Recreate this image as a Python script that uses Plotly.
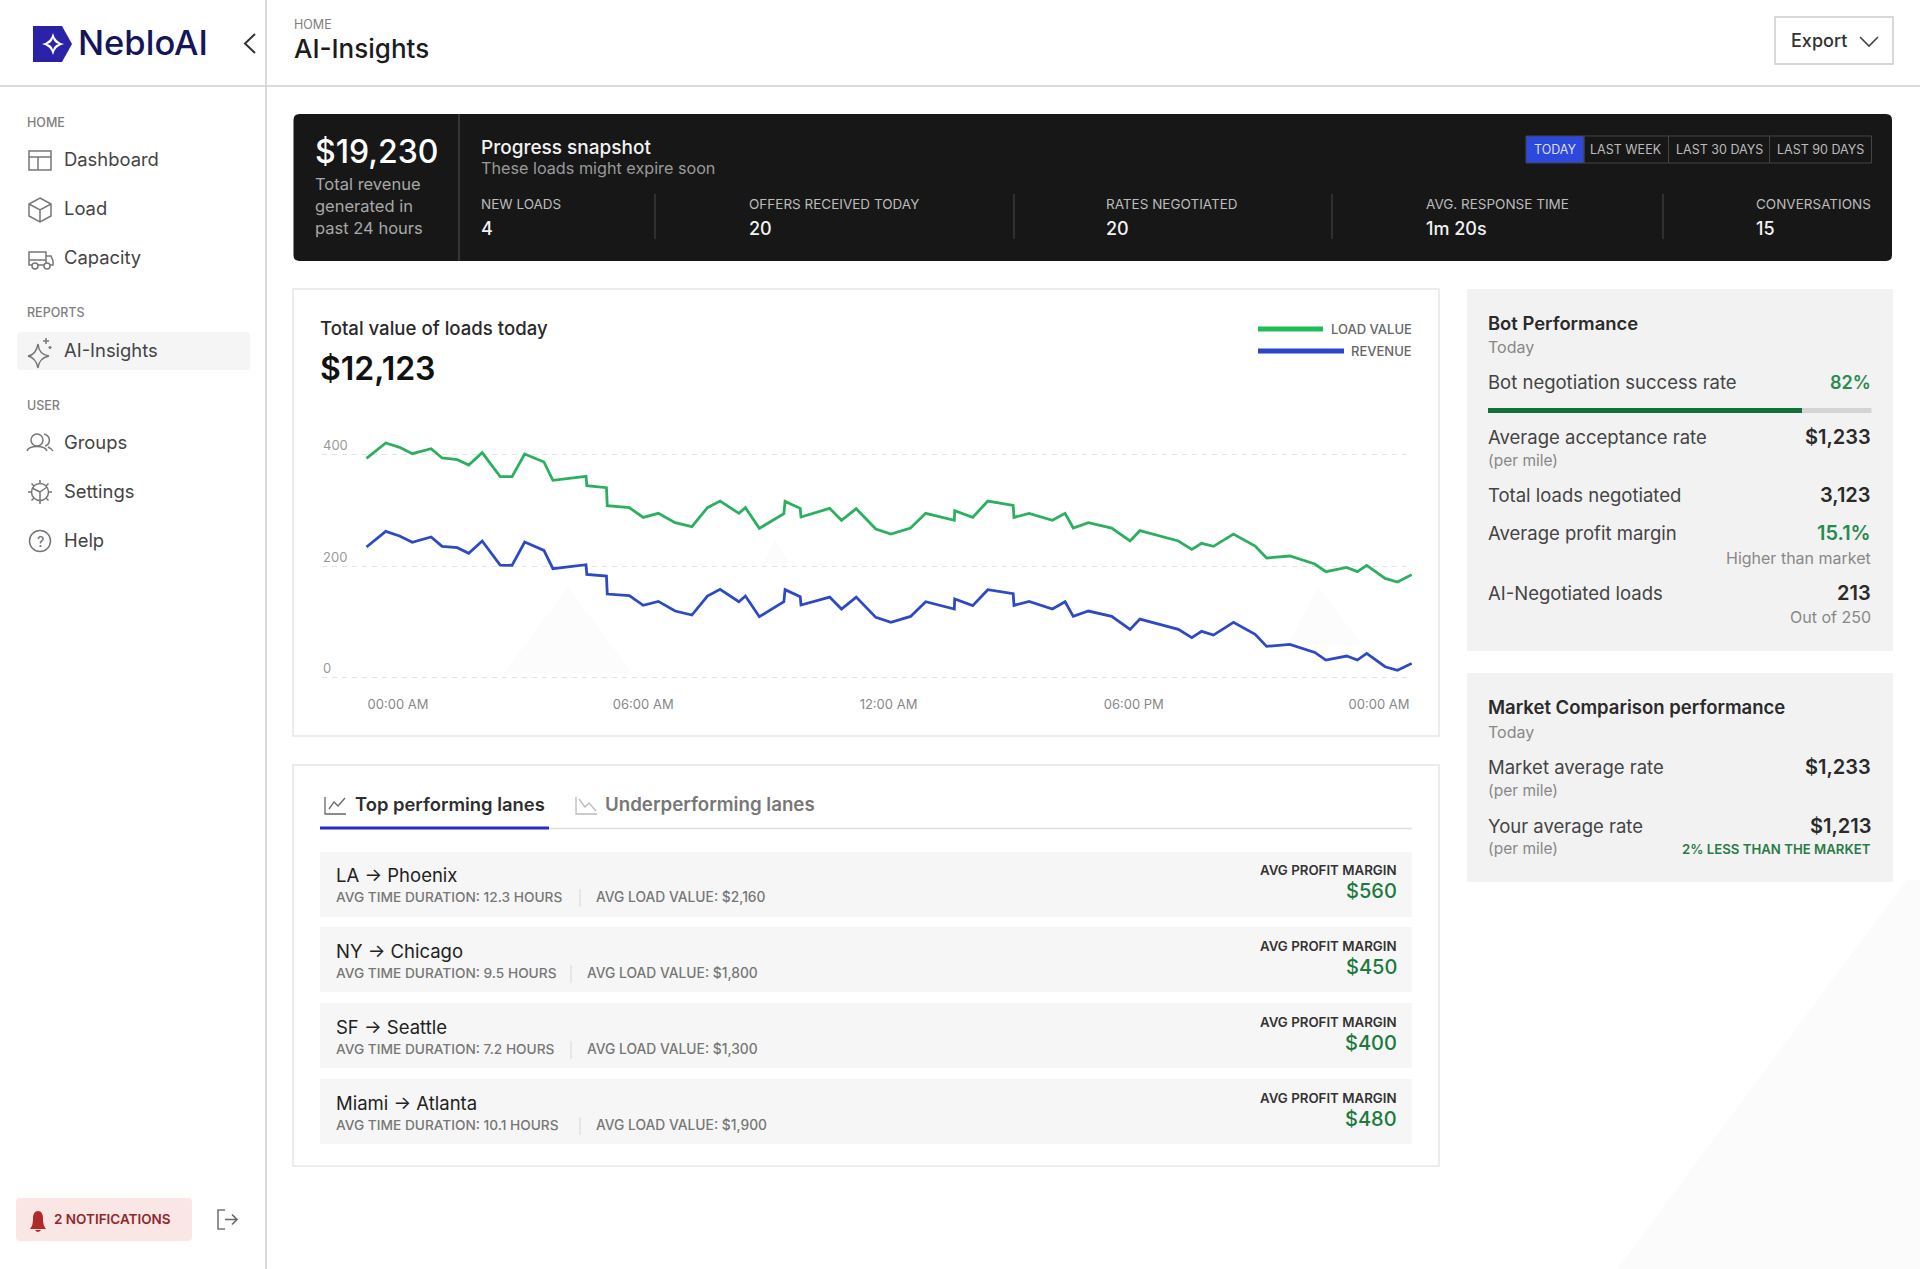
import re
import plotly.graph_objects as go

W = 1920
H = 1269
FONT = "Inter"

# chart data
hours = [-0.77, -0.30, 0.04, 0.35, 0.81, 1.08, 1.45, 1.73, 2.06, 2.50, 2.79, 3.10, 3.57, 3.79, 4.60, 4.62, 5.10, 5.12,
         5.66, 6.00, 6.37, 6.78, 7.19, 7.57, 7.88, 8.34, 8.50, 8.84, 9.44, 9.47, 9.84, 9.86, 10.56, 10.85, 11.21,
         11.69, 12.06, 12.54, 12.91, 13.61, 13.62, 14.06, 14.43, 15.05, 15.07, 15.44, 16.01, 16.32, 16.52, 16.89,
         17.46, 17.91, 18.15, 19.09, 19.42, 19.66, 19.95, 20.44, 20.97, 21.25, 21.82, 22.43, 22.70, 23.21, 23.47,
         23.70, 24.15, 24.45, 24.80]
load_value = [393.5, 421, 413.2, 401.9, 410.8, 394.1, 391.1, 381.5, 403.7, 360.6, 360.6, 401.3, 386.9, 354.0, 361.2,
              344.4, 340.9, 308.6, 305.0, 287.6, 294.8, 278.1, 270.9, 305.0, 316.9, 294.8, 305.0, 267.9, 294.2, 316.3,
              303.8, 288.2, 303.8, 282.3, 303.2, 266.7, 257.7, 268.5, 294.8, 282.3, 299.6, 287.6, 316.9, 309.2, 287.6,
              294.8, 282.3, 294.8, 268.5, 278.1, 268.5, 245.2, 263.7, 245.2, 230.2, 241.0, 235.6, 257.7, 236.2, 214.7,
              218.3, 203.9, 190.2, 197.9, 190.2, 201.5, 178.2, 171.6, 184.8]
revenue = [234.4, 262.5, 254.2, 242.8, 252.4, 235.6, 233.2, 223.1, 245.2, 202.1, 201.5, 243.4, 228.4, 195.5, 202.7,
           185.4, 182.4, 150.1, 147.1, 129.8, 136.9, 119.6, 112.4, 146.5, 158.5, 136.3, 146.5, 109.4, 136.3, 157.9,
           145.3, 130.4, 144.7, 123.2, 144.7, 108.2, 99.3, 110.0, 136.3, 123.2, 141.1, 129.2, 157.9, 150.7, 129.8,
           136.9, 123.2, 136.3, 110.0, 119.6, 110.0, 86.7, 105.2, 86.7, 71.8, 83.1, 76.5, 99.3, 77.7, 56.2,
           59.8, 45.4, 31.7, 38.9, 31.7, 43.7, 19.7, 13.2, 25.7]
x_ticks = [0, 6, 12, 18, 24]
x_labels = ["00:00 AM", "06:00 AM", "12:00 AM", "06:00 PM", "00:00 AM"]
y_ticks = [0, 200, 400]

# page text
snapshot_labels = ["NEW LOADS", "OFFERS RECEIVED TODAY", "RATES NEGOTIATED", "AVG. RESPONSE TIME", "CONVERSATIONS"]
snapshot_values = ["4", "20", "20", "1m 20s", "15"]
ranges = ["TODAY", "LAST WEEK", "LAST 30 DAYS", "LAST 90 DAYS"]
lane_names = ["LA → Phoenix", "NY → Chicago", "SF → Seattle", "Miami → Atlanta"]
lane_durations = ["12.3", "9.5", "7.2", "10.1"]
lane_loads = ["$2,160", "$1,800", "$1,300", "$1,900"]
lane_margins = ["$560", "$450", "$400", "$480"]

shapes = []
notes = []


def X(px):
    return px / W


def Y(py):
    return 1 - py / H


def svg(d, fill=None, line=None, width=1.5):
    # path written in page pixels, shapes need it in paper fractions
    parts = re.findall(r"[A-Za-z]|-?[\d.]+", d)
    out = []
    is_x = True
    for p in parts:
        if p.isalpha():
            out.append(p)
            is_x = True
        else:
            out.append(f"{X(float(p)):.5f}" if is_x else f"{Y(float(p)):.5f}")
            is_x = not is_x
    shapes.append(dict(type="path", path=" ".join(out), xref="paper", yref="paper", layer="below",
                       fillcolor=fill or "rgba(0,0,0,0)",
                       line=dict(color=line or "rgba(0,0,0,0)", width=width if line else 0)))


def box(x0, y0, x1, y1, fill=None, line=None, r=0, width=1.5):
    if r == 0:
        d = f"M {x0} {y0} L {x1} {y0} L {x1} {y1} L {x0} {y1} Z"
    else:
        d = (f"M {x0 + r} {y0} L {x1 - r} {y0} Q {x1} {y0} {x1} {y0 + r} L {x1} {y1 - r} Q {x1} {y1} {x1 - r} {y1} "
             f"L {x0 + r} {y1} Q {x0} {y1} {x0} {y1 - r} L {x0} {y0 + r} Q {x0} {y0} {x0 + r} {y0} Z")
    svg(d, fill, line, width)


def circle(cx, cy, r, line="#777777", fill=None, width=1.5):
    shapes.append(dict(type="circle", xref="paper", yref="paper", layer="below",
                       x0=X(cx - r), x1=X(cx + r), y0=Y(cy + r), y1=Y(cy - r),
                       fillcolor=fill or "rgba(0,0,0,0)", line=dict(color=line, width=width)))


def txt(x, y, s, size, color, weight=400, anchor="left"):
    # small nudge, annotations came out about a pixel off
    nudge = {"left": -1.2, "right": 1.2, "center": 0}[anchor]
    notes.append(dict(x=X(x + nudge), y=Y(y - 1), xref="paper", yref="paper", text=s, showarrow=False, xanchor=anchor,
                      yanchor="middle", borderpad=0, align=anchor,
                      font=dict(family=FONT, size=size, color=color, weight=weight)))


# faint background shapes
svg("M 1907 880 L 1920 880 L 1920 1269 L 1617 1269 Z", fill="#fbfbfb")
svg("M 568 587 L 632 673 L 504 673 Z", fill="#fcfcfc")
svg("M 775 540 L 790 563 L 762 563 Z", fill="#fcfcfc")
svg("M 1318 587 L 1362 645 L 1288 645 Z", fill="#fcfcfc")

# frame lines
svg("M 0 86 L 1920 86", line="#cfcfcf", width=1.5)
svg("M 266 0 L 266 1269", line="#cfcfcf", width=1.5)

# logo
svg("M 33 26 L 62 26 L 72 44 L 62 62 L 33 62 Z", fill="#2a23a8")
svg("M 53 33 Q 55 42 64 44 Q 55 46 53 55 Q 51 46 42 44 Q 51 42 53 33 Z", fill="#ffffff")
svg("M 53 38 Q 54 43 59 44 Q 54 45 53 50 Q 52 45 47 44 Q 52 43 53 38 Z", fill="#2a23a8")
txt(78, 43, "NebloAI", 34.5, "#15155a", 500)
svg("M 255 34 L 245 43.5 L 255 53", line="#333333", width=2)

# page header
txt(294, 25, "HOME", 12.5, "#808080")
txt(294, 49, "AI-Insights", 26, "#1c1c1c", 500)
box(1775, 17, 1893, 64, line="#cccccc")
txt(1791, 41, "Export", 18, "#333333", 500)
svg("M 1860 37 L 1869 46 L 1878 37", line="#444444", width=1.6)

# sidebar
for label, y in [("HOME", 123), ("REPORTS", 313), ("USER", 406)]:
    txt(27, y, label, 12.5, "#808080", 500)
box(17, 332, 250, 370, fill="#f5f5f5", r=4)
for label, y in [("Dashboard", 160), ("Load", 209), ("Capacity", 258), ("AI-Insights", 351), ("Groups", 443),
                 ("Settings", 492), ("Help", 541)]:
    txt(64, y, label, 18.4, "#444444")

ic = "#777777"
box(29, 151, 51, 170, line=ic)
svg("M 29 157 L 51 157 M 38 157 L 38 170", line=ic)
svg("M 40 198 L 51 204 L 51 216 L 40 222 L 29 216 L 29 204 Z M 29 204 L 40 210 L 51 204 M 40 210 L 40 222", line=ic)
svg("M 46 265 L 29 265 L 29 252 L 46 252 L 46 265 M 46 256 L 51 256 L 53 261 L 53 265 L 50 265 M 29 260 L 46 260", line=ic)
circle(35, 266, 3, line=ic, fill="#ffffff")
circle(47, 266, 3, line=ic, fill="#ffffff")
svg("M 38 344 Q 39 355 49 356 Q 39 358 38 368 Q 36 358 28 356 Q 36 355 38 344 Z", line=ic)
svg("M 46 338 L 46 344 M 43 341 L 49 341 M 50 346 L 50 349 M 48.5 347.5 L 51.5 347.5", line=ic)
circle(37, 440, 6, line=ic)
svg("M 27 451 C 29 445 45 445 47 451 M 44 434 C 51 436 51 444 45 446 M 48 447 C 50 448 52 449 53 451", line=ic)
circle(40, 492, 8.5, line=ic)
svg("M 40 480 L 40 484 M 40 500 L 40 504 M 28 492 L 32 492 M 48 492 L 52 492 M 31.5 483.5 L 34 486 M 46 498 L 48.5 500.5 "
    "M 48.5 483.5 L 46 486 M 34 498 L 31.5 500.5 M 40 492 L 47 487 M 40 492 L 40 500 M 40 492 L 32 488", line=ic)
circle(40, 541, 10.5, line=ic)
txt(40, 542, "?", 14, ic, 500, "center")

# notifications
box(16, 1198, 192, 1241, fill="#fbe6e6", r=4)
svg("M 30 1229 Q 33 1226 33 1219 Q 33 1211 38 1211 Q 43 1211 43 1219 Q 43 1226 46 1229 Z M 35 1230 Q 38 1234 41 1230 Z",
    fill="#b02a2a")
txt(54, 1220, "2 NOTIFICATIONS", 13.5, "#8e2a2a", 600)
svg("M 225 1210 L 218 1210 L 218 1229 L 225 1229", line="#777777", width=1.6)
svg("M 225 1219.5 L 237 1219.5 M 232 1214.5 L 237 1219.5 L 232 1224.5", line="#666666", width=1.6)

# progress snapshot card
box(293.5, 114, 1892, 261, fill="#171717", r=6)
svg("M 459 114 L 459 261", line="#555555", width=1)
txt(315, 153, "$19,230", 32, "#ffffff", 500)
for line, y in [("Total revenue", 185), ("generated in", 207), ("past 24 hours", 229)]:
    txt(315, y, line, 16.5, "#a8a8a8")
txt(481, 148, "Progress snapshot", 19, "#f2f2f2", 500)
txt(481, 169, "These loads might expire soon", 16.2, "#9a9a9a")
for i, x in enumerate([481, 749, 1106, 1426, 1756]):
    txt(x, 205, snapshot_labels[i], 13.5, "#bbbbbb")
    txt(x, 229, snapshot_values[i], 18, "#f2f2f2", 500)
for x in [655, 1014, 1332, 1663]:
    svg(f"M {x} 194 L {x} 239", line="#4a4a4a", width=1)
edges = [1526, 1584, 1668.5, 1769.5, 1871.5]
for i, name in enumerate(ranges):
    box(edges[i], 136, edges[i + 1], 163, fill="#2d48dc" if i == 0 else None, line="#444444", width=1)
    txt((edges[i] + edges[i + 1]) / 2, 150, name, 12.5, "#dddddd" if i == 0 else "#bbbbbb", 400, "center")

# chart card
box(293, 289, 1439, 736, line="#e6e6e6")
txt(320, 329, "Total value of loads today", 18.6, "#2a2a2a", 500)
txt(320, 370, "$12,123", 32, "#111111", 600)
svg("M 1258 329 L 1323 329", line="#1fbd55", width=5)
svg("M 1258 351 L 1344 351", line="#2b45c8", width=5)
txt(1412, 329.5, "LOAD VALUE", 13, "#666666", 500, "right")
txt(1412, 351.5, "REVENUE", 13, "#666666", 500, "right")

# lanes card
box(293, 765, 1439, 1166, line="#e6e6e6")
svg("M 320 828.5 L 1412 828.5", line="#dddddd", width=1.5)
svg("M 320 828 L 549 828", line="#2b2bc8", width=3)
svg("M 325 797 L 325 814 L 346 814 M 329 809 L 334 802 L 338 806 L 345 798", line="#666666", width=1.3)
svg("M 576 797 L 576 814 L 597 814 M 579 799 L 585 807 L 589 803 L 596 811", line="#bbbbbb", width=1.3)
txt(355, 805, "Top performing lanes", 18.4, "#2e2e2e", 600)
txt(605, 805, "Underperforming lanes", 18.7, "#777777", 600)
for i in range(4):
    top = 852 + 76 * i - (1 if i > 0 else 0)
    box(320, top, 1412, top + 65, fill="#f6f6f6")
    txt(336, 876 + 76 * i, lane_names[i], 18.5, "#222222")
    dur = f"AVG TIME DURATION: {lane_durations[i]} HOURS"
    txt(336, 898 + 76 * i, dur, 13.7, "#777777", 500)
    sep = 580 if i in (0, 3) else 571
    svg(f"M {sep} {889 + 76 * i} L {sep} {907 + 76 * i}", line="#d8d8d8", width=1)
    txt(sep + 16, 898 + 76 * i, f"AVG LOAD VALUE: {lane_loads[i]}", 13.8, "#777777", 500)
    txt(1397, 871 + 76 * i, "AVG PROFIT MARGIN", 13.3, "#333333", 600, "right")
    txt(1397, 892 + 76 * i, lane_margins[i], 20, "#1d7a3e", 500, "right")

# bot performance card
box(1467, 289, 1893, 651, fill="#f2f2f2")
txt(1488, 323.5, "Bot Performance", 18.4, "#2a2a2a", 600)
txt(1488, 348, "Today", 16, "#888888")
txt(1488, 383.5, "Bot negotiation success rate", 18.5, "#444444")
txt(1871, 383.5, "82%", 18, "#2b8a50", 600, "right")
box(1488, 408, 1871.5, 413, fill="#d4d4d4")
box(1488, 408, 1802, 413, fill="#14703a")
txt(1488, 438, "Average acceptance rate", 18.5, "#444444")
txt(1871, 438, "$1,233", 20, "#2a2a2a", 600, "right")
txt(1488, 461, "(per mile)", 15.5, "#888888")
txt(1488, 496.5, "Total loads negotiated", 18.5, "#444444")
txt(1871, 496.5, "3,123", 20, "#2a2a2a", 600, "right")
txt(1488, 534, "Average profit margin", 18.5, "#444444")
txt(1871, 534, "15.1%", 20, "#2b8a50", 600, "right")
txt(1871, 558.5, "Higher than market", 16, "#888888", 400, "right")
txt(1488, 594, "AI-Negotiated loads", 18.5, "#444444")
txt(1871, 594, "213", 20, "#2a2a2a", 600, "right")
txt(1871, 618, "Out of 250", 16, "#888888", 400, "right")

# market comparison card
box(1467, 673, 1893, 882, fill="#f2f2f2")
txt(1488, 708, "Market Comparison performance", 18.5, "#2a2a2a", 600)
txt(1488, 732.5, "Today", 16, "#888888")
txt(1488, 768, "Market average rate", 18.5, "#444444")
txt(1871, 768, "$1,233", 20, "#2a2a2a", 600, "right")
txt(1488, 791, "(per mile)", 15.5, "#888888")
txt(1488, 826.5, "Your average rate", 18.5, "#444444")
txt(1871, 826.5, "$1,213", 20, "#2a2a2a", 600, "right")
txt(1488, 849.5, "(per mile)", 15.5, "#888888")
txt(1871, 850, "2% LESS THAN THE MARKET", 13.2, "#2a7a48", 600, "right")

fig = go.Figure()
fig.add_trace(go.Scatter(x=hours, y=load_value, mode="lines", name="LOAD VALUE", line=dict(color="#2bb05f", width=2.8)))
fig.add_trace(go.Scatter(x=hours, y=revenue, mode="lines", name="REVENUE", line=dict(color="#2e49c4", width=2.8)))

fig.update_layout(
    width=W, height=H, margin=dict(l=0, r=0, t=0, b=0, autoexpand=False),
    paper_bgcolor="#ffffff", plot_bgcolor="rgba(0,0,0,0)", showlegend=False,
    font=dict(family=FONT),
    shapes=shapes, annotations=notes,
    xaxis=dict(domain=[X(322), X(1412)], range=[-1.859, 24.807], tickvals=x_ticks, ticktext=x_labels,
               showgrid=False, zeroline=False, showline=False, ticks="", ticklabelstandoff=15,
               tickfont=dict(family=FONT, size=13, color="#888888"), automargin=False),
    yaxis=dict(domain=[Y(680), Y(432.4)], range=[-4.1, 440], tickvals=y_ticks,
               showgrid=True, gridcolor="#e2e2e2", griddash="5px,5px", gridwidth=1.2, zeroline=False, showline=False,
               ticks="", ticklabelposition="inside", ticklabelshift=-9, ticklabelstandoff=-2,
               tickfont=dict(family=FONT, size=13, color="#999999"), automargin=False),
)

# the browser's default body margin would push the page 8px off
fig.write_html("out.html", config=dict(displayModeBar=False), post_script="document.body.style.margin = '0';")
